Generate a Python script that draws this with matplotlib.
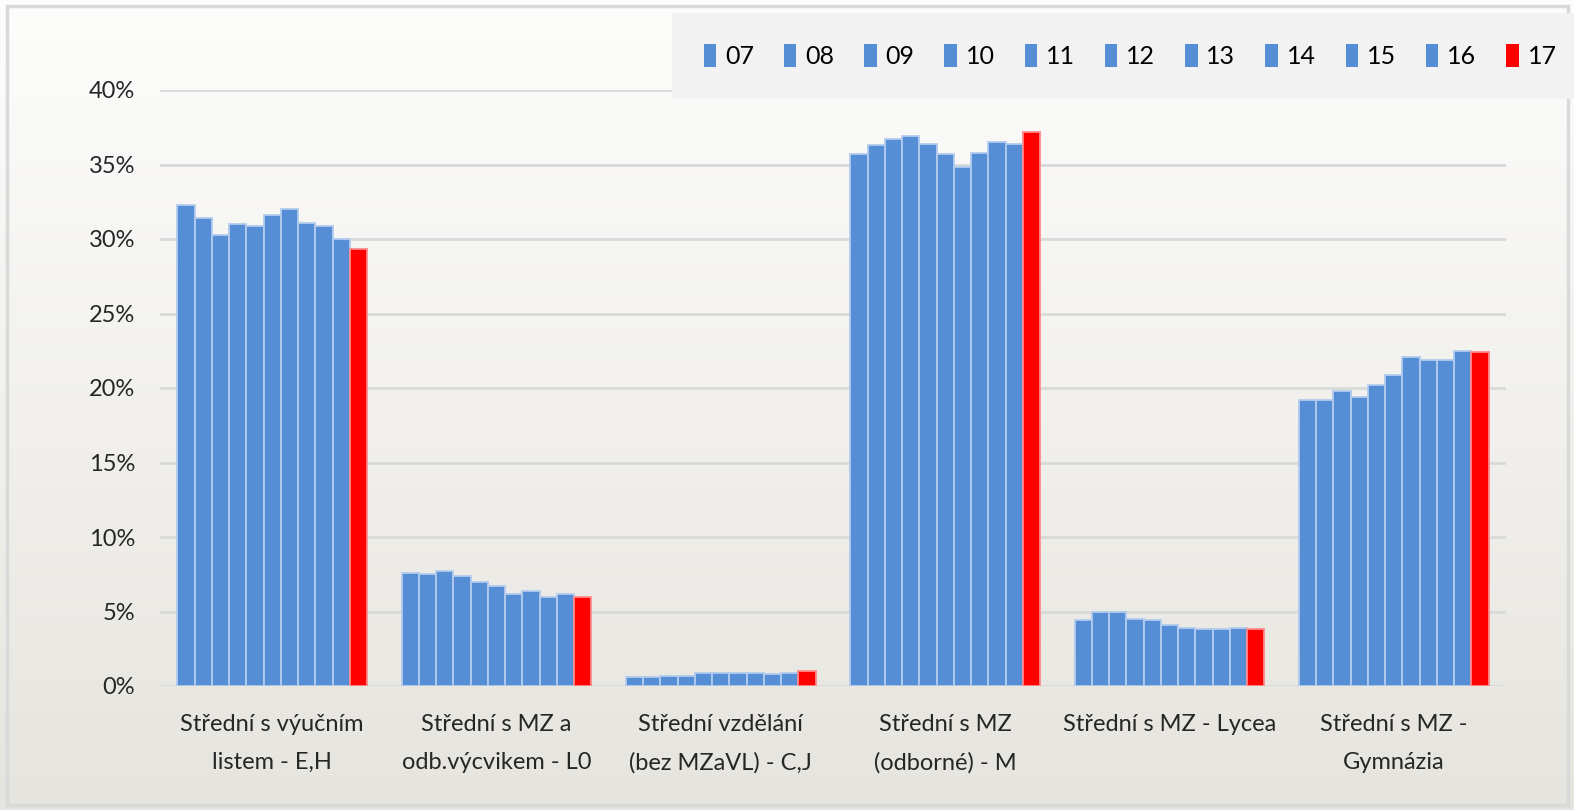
import matplotlib
matplotlib.use('Agg')
import matplotlib.pyplot as plt
import numpy as np
from matplotlib.patches import Rectangle, Patch
from matplotlib.ticker import FuncFormatter

plt.rcParams['font.family'] = ['Lato', 'DejaVu Sans']

# kategorie (typ vzdělání)
categories = [
    'Střední s výučním\nlistem - E,H',
    'Střední s MZ a\nodb.výcvikem - L0',
    'Střední vzdělání\n(bez MZaVL) - C,J',
    'Střední s MZ\n(odborné) - M',
    'Střední s MZ - Lycea',
    'Střední s MZ -\nGymnázia',
]
years = ['07', '08', '09', '10', '11', '12', '13', '14', '15', '16', '17']

# podíly v % podle roku (řádek = rok, sloupec = kategorie)
y07 = [32.3, 7.6, 0.6, 35.7, 4.4, 19.2]
y08 = [31.4, 7.5, 0.6, 36.3, 5.0, 19.2]
y09 = [30.3, 7.7, 0.7, 36.7, 5.0, 19.8]
y10 = [31.0, 7.4, 0.7, 36.9, 4.5, 19.4]
y11 = [30.9, 7.0, 0.9, 36.4, 4.4, 20.2]
y12 = [31.6, 6.7, 0.9, 35.7, 4.1, 20.9]
y13 = [32.0, 6.2, 0.9, 34.8, 3.9, 22.1]
y14 = [31.1, 6.4, 0.9, 35.8, 3.8, 21.9]
y15 = [30.9, 6.0, 0.8, 36.5, 3.8, 21.9]
y16 = [30.0, 6.2, 0.9, 36.4, 3.9, 22.5]
y17 = [29.3, 6.0, 1.0, 37.2, 3.8, 22.4]
series = [y07, y08, y09, y10, y11, y12, y13, y14, y15, y16, y17]

blue = '#558ED5'
red = '#FF0000'

fig = plt.figure(figsize=(15.74, 8.10), dpi=100)

# pozadí s přechodem
bg = fig.add_axes([0, 0, 1, 1], zorder=-10)
grad = np.linspace(0, 1, 256).reshape(-1, 1)
top = np.array([0xFD, 0xFD, 0xFC]) / 255
bot = np.array([0xE6, 0xE4, 0xDE]) / 255
img = top[None, None, :] * (1 - grad[:, :, None]) + bot[None, None, :] * grad[:, :, None]
bg.imshow(img, aspect='auto', extent=[0, 1, 0, 1])
bg.axis('off')
fig.patches.append(Rectangle((7 / 1574, 1 - 805 / 810), 1561 / 1574, 799 / 810,
                             transform=fig.transFigure, fill=False,
                             edgecolor='#D9D9D9', linewidth=2.5))

ax = fig.add_axes([160 / 1574, 1 - 686 / 810, (1506 - 160) / 1574, (686 - 90) / 810])
ax.patch.set_alpha(0)

n = len(series)
w = 1 / (n + 2)
x = np.arange(len(categories))
for j, vals in enumerate(series):
    c = red if j == n - 1 else blue
    ec = '#FF8A8A' if j == n - 1 else '#B3CBEE'
    ax.bar(x + (j - (n - 1) / 2) * w, np.array(vals) / 100, width=w,
           color=c, edgecolor=ec, linewidth=1.3, zorder=3)

ax.set_xlim(-0.5, len(categories) - 0.5)
ax.set_ylim(0, 0.40)
ax.set_yticks(np.arange(0, 0.401, 0.05))
ax.yaxis.set_major_formatter(FuncFormatter(lambda v, p: f'{v * 100:.0f}%'))
ax.set_xticks(x)
ax.set_xticklabels(categories, fontsize=17, color='#262626', linespacing=2.0)
ax.tick_params(axis='y', labelsize=17, colors='#262626', length=0, pad=18)
ax.tick_params(axis='x', length=0, pad=20)
ax.grid(axis='y', color='#D9D9D9', linewidth=2, zorder=0)
for s in ax.spines.values():
    s.set_visible(False)

handles = [Patch(facecolor=red if i == n - 1 else blue, edgecolor='none') for i in range(n)]
leg = fig.legend(handles, years, loc='center', ncol=n,
                 bbox_to_anchor=(1130 / 1574, 1 - 56 / 810),
                 fontsize=18, frameon=True, fancybox=False,
                 handlelength=0.5, handleheight=1.0, handletextpad=0.35,
                 columnspacing=1.2, borderpad=1.25)
leg.get_frame().set_facecolor('#F2F2F2')
leg.get_frame().set_edgecolor('none')
leg.get_frame().set_alpha(1)

fig.savefig('out.png', dpi=100)
